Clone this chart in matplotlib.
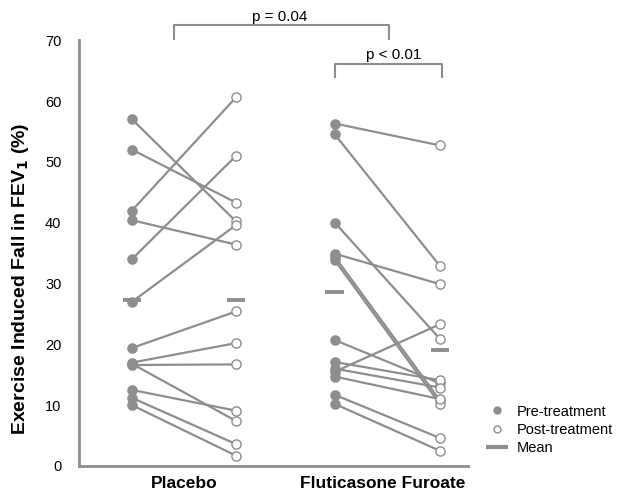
import numpy as np
import matplotlib
matplotlib.use("Agg")
import matplotlib.pyplot as plt
from matplotlib.lines import Line2D

plt.rcParams["font.family"] = ["Liberation Sans", "DejaVu Sans"]

groups = ["Placebo", "Fluticasone Furoate"]

# placebo, pre and post (paired)
placebo_pre = [57.0, 52.0, 42.0, 40.4, 34.0, 27.0, 19.4, 17.0, 16.6, 16.8, 12.5, 11.2, 10.0]
placebo_post = [40.2, 43.3, 60.6, 36.4, 51.0, 39.6, 25.4, 20.2, 16.7, 7.4, 9.1, 3.6, 1.7]

# fluticasone furoate, pre and post (paired)
ff_pre = [56.3, 54.5, 40.0, 34.9, 34.4, 33.8, 20.7, 17.1, 16.0, 15.5, 14.7, 11.7, 10.2]
ff_post = [52.7, 32.9, 20.9, 29.9, 10.8, 10.2, 13.6, 14.1, 12.9, 23.3, 11.0, 4.6, 2.5]

mean_pre = [27.3, 28.6]
mean_post = [27.3, 19.1]

pvals = ["p = 0.04", "p < 0.01"]

grey = "#8e8e8e"

fig = plt.figure(figsize=(6.18, 4.9), dpi=100)
ax = fig.add_axes([0.1286, 0.049, 0.6286, 0.869])

xpos = [(0.0, 1.0), (1.95, 2.96)]
data = [(placebo_pre, placebo_post), (ff_pre, ff_post)]

for (xa, xb), (pre, post) in zip(xpos, data):
    for a, b in zip(pre, post):
        ax.plot([xa, xb], [a, b], color=grey, lw=1.6, zorder=2)
    ax.plot([xa] * len(pre), pre, "o", color=grey, ms=6.6, mec=grey, zorder=3)
    ax.plot([xb] * len(post), post, "o", color="white", ms=6.6, mec=grey, mew=1.0, zorder=3)

for i, (xa, xb) in enumerate(xpos):
    ax.plot([xa - 0.09, xa + 0.09], [mean_pre[i]] * 2, color=grey, lw=2.8, solid_capstyle="butt", zorder=4)
    ax.plot([xb - 0.09, xb + 0.09], [mean_post[i]] * 2, color=grey, lw=2.8, solid_capstyle="butt", zorder=4)

ax.set_xlim(-0.505, 3.23)
ax.set_ylim(0, 70)
ax.set_yticks(range(0, 71, 10))
ax.tick_params(axis="y", length=0, labelsize=10.5, pad=13)
ax.set_xticks([0.5, 2.41])
ax.set_xticklabels(groups, fontweight="bold", fontsize=12.5)
ax.tick_params(axis="x", length=0, pad=7)
for s in ["top", "right"]:
    ax.spines[s].set_visible(False)
for s in ["left", "bottom"]:
    ax.spines[s].set_color(grey)
    ax.spines[s].set_linewidth(2)
ax.set_ylabel("Exercise Induced Fall in FEV$_\\mathbf{1}$ (%)", fontweight="bold", fontsize=14)
ax.yaxis.set_label_coords(-0.125, 0.44)

# significance brackets
ax.plot([0.404, 0.404, 2.47, 2.47], [70.16, 72.46, 72.46, 70.16], color=grey, lw=1.5, clip_on=False)
ax.text(1.42, 73.8, pvals[0], ha="center", va="center", fontsize=11)
ax.plot([1.948, 1.948, 2.98, 2.98], [63.9, 66.1, 66.1, 63.9], color=grey, lw=1.5, clip_on=False)
ax.text(2.515, 67.5, pvals[1], ha="center", va="center", fontsize=11)

handles = [
    Line2D([], [], marker="o", ls="none", color=grey, ms=5),
    Line2D([], [], marker="o", ls="none", mfc="white", mec=grey, ms=5),
    Line2D([], [], color=grey, lw=3),
]
fig.legend(handles, ["Pre-treatment", "Post-treatment", "Mean"], loc="center left",
           bbox_to_anchor=(0.79, 0.1225), frameon=False, fontsize=10.5,
           handlelength=1.25, handletextpad=0.7, labelspacing=0.3,
           borderpad=0, borderaxespad=0)

fig.savefig("out.png", dpi=100)
